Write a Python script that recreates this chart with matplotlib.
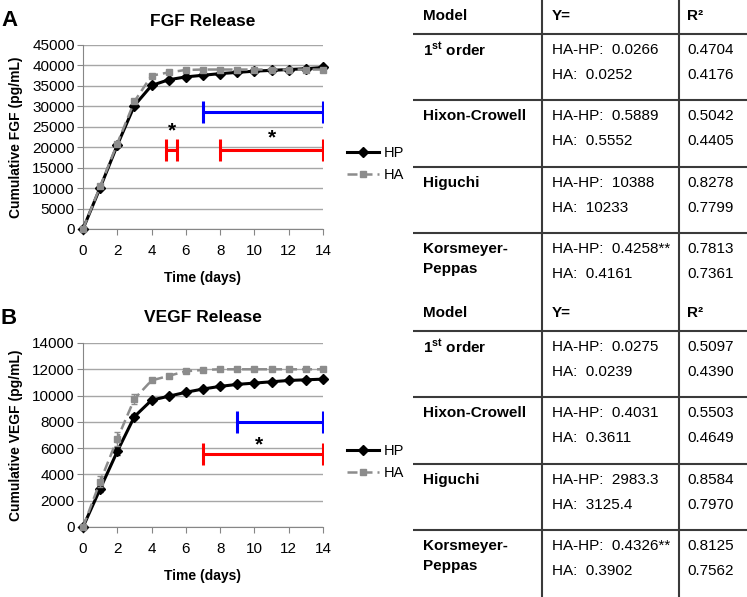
import matplotlib
matplotlib.use('Agg')
import matplotlib.pyplot as plt

plt.rcParams['font.family'] = ['Liberation Sans', 'DejaVu Sans']
plt.rcParams['mathtext.fontset'] = 'custom'
plt.rcParams['mathtext.rm'] = 'Liberation Sans'
plt.rcParams['mathtext.bf'] = 'Liberation Sans:bold'

# ---- data ----
days = list(range(15))
fgf_hp = [0, 10100, 20500, 30200, 35100, 36500, 37200, 37600, 38000, 38300, 38600, 38800, 39000, 39200, 39500]
fgf_ha = [0, 10400, 20900, 31200, 37500, 38300, 38900, 39000, 39000, 39000, 39000, 39000, 39000, 39000, 39000]
fgf_hp_err = [0, 300, 400, 400, 300, 300, 200, 200, 200, 200, 200, 200, 200, 200, 200]
fgf_ha_err = [0, 300, 400, 400, 300, 200, 200, 200, 200, 200, 200, 200, 200, 200, 200]

vegf_hp = [0, 2900, 5750, 8400, 9650, 9950, 10250, 10500, 10700, 10850, 10950, 11050, 11150, 11200, 11250]
vegf_ha = [0, 3450, 6700, 9750, 11150, 11500, 11850, 11950, 12000, 12000, 12000, 12000, 12000, 12000, 12000]
vegf_hp_err = [0, 200, 300, 200, 100, 100, 100, 100, 100, 100, 100, 100, 100, 100, 100]
vegf_ha_err = [0, 400, 500, 400, 150, 100, 100, 100, 100, 100, 100, 100, 100, 100, 100]

# significance brackets: (start day, end day, level, colour)
fgf_brackets = [(7, 14, 28500, 'blue'), (4.85, 5.5, 19400, 'red'), (8, 14, 19400, 'red')]
fgf_stars = [(5.2, 23900), (11.05, 22300)]
vegf_brackets = [(9, 14, 8000, 'blue'), (7, 14, 5550, 'red')]
vegf_stars = [(10.25, 6250)]

# table
models = ['1$^{\\mathbf{st}}$ order', 'Hixon-Crowell', 'Higuchi', 'Korsmeyer-\nPeppas']
fgf_y_hahp = ['0.0266', '0.5889', '10388', '0.4258**']
fgf_y_ha = ['0.0252', '0.5552', '10233', '0.4161']
fgf_r2_hahp = ['0.4704', '0.5042', '0.8278', '0.7813']
fgf_r2_ha = ['0.4176', '0.4405', '0.7799', '0.7361']
vegf_y_hahp = ['0.0275', '0.4031', '2983.3', '0.4326**']
vegf_y_ha = ['0.0239', '0.3611', '3125.4', '0.3902']
vegf_r2_hahp = ['0.5097', '0.5503', '0.8584', '0.8125']
vegf_r2_ha = ['0.4390', '0.4649', '0.7970', '0.7562']

W, H = 747, 597
fig = plt.figure(figsize=(W / 100, H / 100), dpi=100)


def px_axes(l, t, r, b):
    return fig.add_axes([l / W, 1 - b / H, (r - l) / W, (b - t) / H])


def release_plot(ax, hp, ha, hp_err, ha_err, ymax, ystep, brackets, stars, cap):
    ax.errorbar(days, hp, yerr=hp_err, fmt='none', ecolor='black', elinewidth=1, capsize=2, zorder=3)
    ax.errorbar(days, ha, yerr=ha_err, fmt='none', ecolor='#8c8c8c', elinewidth=1, capsize=2, zorder=4)
    ax.plot(days, hp, color='black', lw=2.2, marker='D', ms=5, label='HP', zorder=3, clip_on=False)
    ax.plot(days, ha, color='#8c8c8c', lw=1.8, ls=(0, (4, 2)), marker='s', ms=4.5,
            label='HA', zorder=4, clip_on=False)
    for x0, x1, yv, c in brackets:
        ax.errorbar([(x0 + x1) / 2], [yv], xerr=[(x1 - x0) / 2], fmt='none', ecolor=c,
                    elinewidth=2.2, capsize=cap, capthick=2.2, zorder=5)
    for xs, ys in stars:
        ax.text(xs, ys, '*', fontsize=15, fontweight='bold', ha='center', va='center', zorder=6)
    ax.set_xlim(0, 14)
    ax.set_ylim(0, ymax)
    ax.set_xticks(range(0, 15, 2))
    ax.set_yticks(range(0, ymax + 1, ystep))
    ax.yaxis.grid(True, color='#a6a6a6', lw=1)
    ax.set_axisbelow(True)
    for s in ['top', 'right']:
        ax.spines[s].set_visible(False)
    for s in ['left', 'bottom']:
        ax.spines[s].set_color('#868686')
    ax.tick_params(axis='both', direction='out', length=4, color='#868686', labelsize=11)
    ax.tick_params(axis='x', pad=7)
    ax.tick_params(axis='y', pad=2)


ax1 = px_axes(83, 45, 323, 229)
release_plot(ax1, fgf_hp, fgf_ha, fgf_hp_err, fgf_ha_err, 45000, 5000, fgf_brackets, fgf_stars, 7.8)
ax2 = px_axes(83, 343, 323, 527)
release_plot(ax2, vegf_hp, vegf_ha, vegf_hp_err, vegf_ha_err, 14000, 2000, vegf_brackets, vegf_stars, 7.8)

for ax, ly in [(ax1, 164), (ax2, 462)]:
    ax.legend(loc='center left', bbox_to_anchor=(347 / W, 1 - ly / H), bbox_transform=fig.transFigure,
              frameon=False, fontsize=10.5, handlelength=2.2, handletextpad=0.3, labelspacing=0.55,
              borderpad=0, borderaxespad=0)

# overlay in pixel coordinates for labels and the table
ov = fig.add_axes([0, 0, 1, 1], zorder=-1)
ov.set_xlim(0, W)
ov.set_ylim(H, 0)
ov.axis('off')

ov.text(9, 20, 'A', fontsize=16, fontweight='bold', ha='center', va='center')
ov.text(9, 318, 'B', fontsize=16, fontweight='bold', ha='center', va='center')
ov.text(203, 21, 'FGF Release', fontsize=12.5, fontweight='bold', ha='center', va='center')
ov.text(203, 318, 'VEGF Release', fontsize=12.5, fontweight='bold', ha='center', va='center')
ov.text(203, 278, 'Time (days)', fontsize=10, fontweight='bold', ha='center', va='center')
ov.text(203, 576, 'Time (days)', fontsize=10, fontweight='bold', ha='center', va='center')
ov.text(16, 137, 'Cumulative FGF (pg/mL)', fontsize=10, fontweight='bold', ha='center', va='center',
        rotation=90)
ov.text(16, 435, 'Cumulative VEGF (pg/mL)', fontsize=10, fontweight='bold', ha='center', va='center',
        rotation=90)

# table
line_c = '#3a3a3a'
ov.vlines([542, 679], 0, H, color=line_c, lw=1.5)
for off, yhahp, yha, r2hahp, r2ha in [(0, fgf_y_hahp, fgf_y_ha, fgf_r2_hahp, fgf_r2_ha),
                                      (297, vegf_y_hahp, vegf_y_ha, vegf_r2_hahp, vegf_r2_ha)]:
    ov.text(423, off + 16, 'Model', fontsize=11, fontweight='bold', va='center')
    ov.text(552, off + 16, 'Y=', fontsize=11, fontweight='bold', va='center')
    ov.text(687, off + 16, 'R²', fontsize=11, fontweight='bold', va='center')
    for i, m in enumerate(models):
        yl = off + 34 + 66.3 * i
        ov.hlines(yl, 413, W, color=line_c, lw=1.5)
        yr = off + 50 + 66.3 * i
        for j, part in enumerate(m.split('\n')):
            ov.text(423, yr + 20 * j, part, fontsize=11, fontweight='bold', va='center')
        ov.text(552, yr, 'HA-HP:  ' + yhahp[i], fontsize=11, va='center')
        ov.text(552, yr + 25, 'HA:  ' + yha[i], fontsize=11, va='center')
        ov.text(687, yr, r2hahp[i], fontsize=11, va='center')
        ov.text(687, yr + 25, r2ha[i], fontsize=11, va='center')

fig.savefig('out.png', dpi=100)
